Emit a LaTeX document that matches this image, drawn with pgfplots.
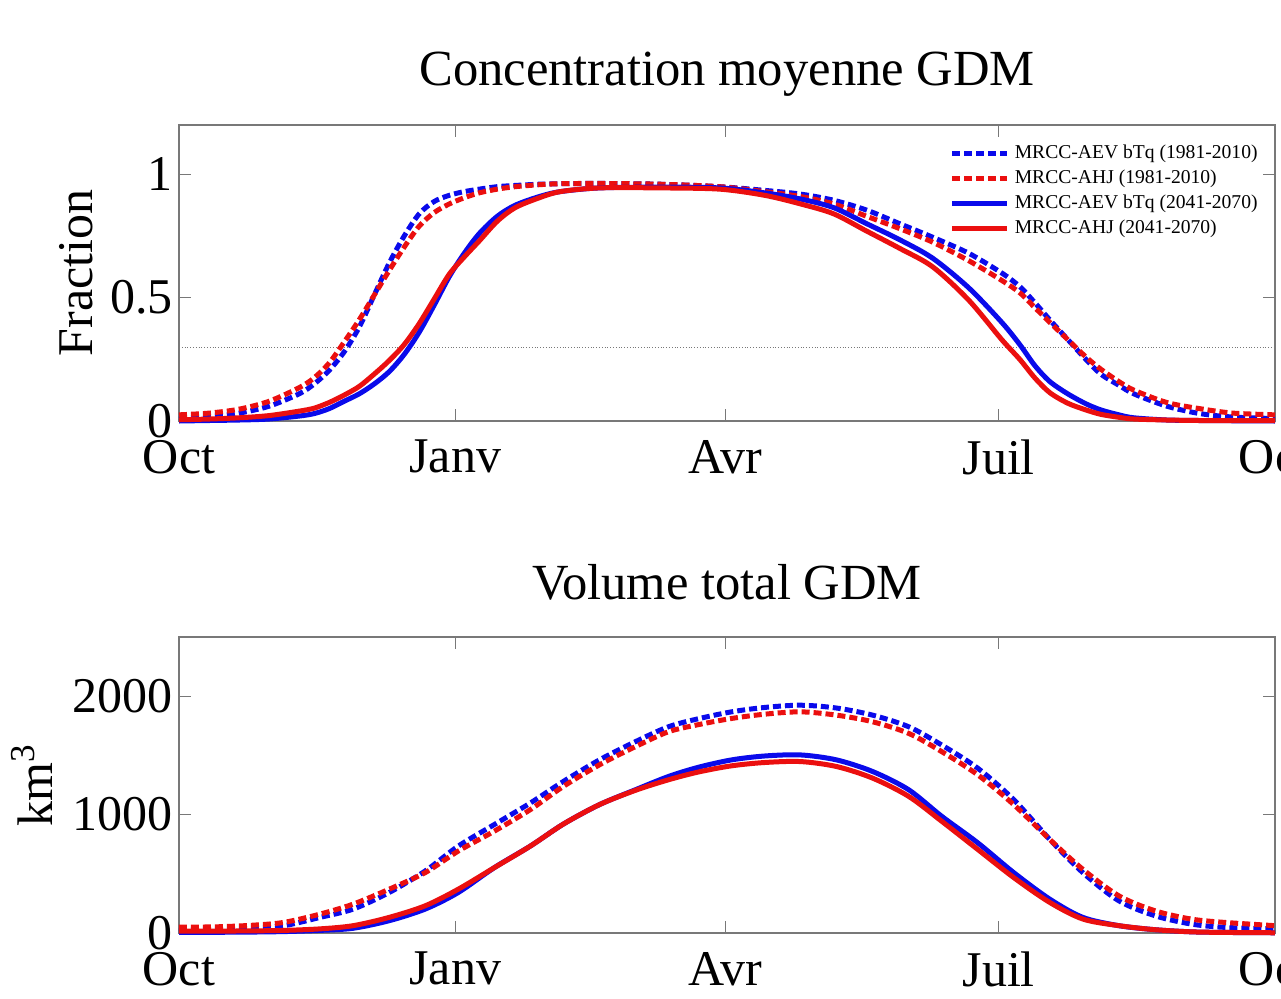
\documentclass[border=0pt]{standalone}
\usepackage{fontspec}
\setmainfont{Liberation Serif}
\usepackage{pgfplots}
\usepackage{pgfplotstable}
\pgfplotsset{compat=1.18}

\definecolor{mblue}{RGB}{10,10,235}
\definecolor{mred}{RGB}{235,15,15}
\definecolor{axgray}{RGB}{120,120,120}

% jour depuis le 1er octobre ; BD/RD = 1981-2010, BS/RS = 2041-2070
\pgfplotstableread{
day  BD     RD     BS     RS
0    0.012  0.025  0.000  0.005
10   0.018  0.032  0.002  0.008
20   0.032  0.048  0.004  0.013
30   0.060  0.080  0.008  0.022
40   0.110  0.135  0.020  0.040
45   0.150  0.175  0.030  0.052
50   0.205  0.235  0.050  0.075
55   0.280  0.320  0.080  0.105
60   0.380  0.410  0.110  0.140
65   0.510  0.510  0.150  0.190
70   0.640  0.610  0.200  0.245
75   0.750  0.705  0.270  0.310
80   0.840  0.790  0.360  0.395
85   0.890  0.845  0.470  0.495
90   0.915  0.880  0.585  0.595
95   0.930  0.905  0.680  0.665
100  0.940  0.925  0.760  0.730
106  0.950  0.940  0.830  0.810
112  0.955  0.950  0.875  0.865
120  0.960  0.958  0.910  0.905
127  0.962  0.962  0.930  0.930
140  0.963  0.963  0.945  0.945
160  0.960  0.960  0.948  0.945
180  0.950  0.950  0.945  0.940
195  0.935  0.930  0.925  0.915
207  0.920  0.910  0.900  0.880
218  0.895  0.880  0.865  0.840
229  0.855  0.830  0.800  0.770
240  0.800  0.780  0.735  0.700
251  0.745  0.725  0.660  0.625
263  0.680  0.650  0.540  0.490
274  0.600  0.570  0.400  0.330
280  0.545  0.520  0.310  0.250
285  0.480  0.460  0.225  0.175
290  0.410  0.400  0.160  0.115
296  0.330  0.330  0.110  0.072
302  0.250  0.260  0.070  0.045
307  0.190  0.210  0.045  0.027
313  0.145  0.160  0.025  0.015
318  0.110  0.125  0.013  0.008
329  0.060  0.075  0.004  0.004
340  0.030  0.050  0.002  0.002
351  0.016  0.032  0.001  0.002
365  0.010  0.025  0.000  0.002
}\conc

\pgfplotstableread{
day  BD    RD    BS    RS
0    25    50    5     15
12   28    52    6     16
24   40    65    8     18
35   62    90    12    22
47   132   160   22    35
58   202   244   40    62
70   342   370   104   132
82   524   510   202   230
93   734   692   342   370
105  916   860   552   552
117  1098  1042  734   734
128  1280  1238  920   920
140  1462  1420  1084  1084
152  1616  1574  1210  1205
163  1742  1700  1322  1294
173  1810  1760  1400  1360
184  1868  1812  1462  1412
195  1905  1848  1495  1440
207  1924  1868  1504  1448
219  1900  1840  1462  1406
231  1840  1784  1364  1308
243  1742  1686  1210  1154
254  1588  1532  986   944
266  1392  1336  762   706
278  1126  1084  510   468
290  790   790   286   258
301  510   538   132   118
313  272   314   62    62
325  146   188   28    28
337  76    118   10    10
348  48    90    5     5
365  34    62    2     2
}\vol

\pgfplotsset{
  gdm/.style={
    scale only axis, width=548pt, height=148pt,
    xmin=0, xmax=365,
    xtick={0,92,182,273,365},
    xticklabels={Oct,Janv,Avr,Juil,Oct},
    tick pos=both, tick align=inside,
    major tick length=6pt,
    axis line style={axgray, line width=0.6pt},
    every tick/.style={axgray, line width=0.6pt},
    tick label style={font=\fontsize{25}{27}\selectfont},
    xticklabel style={yshift=-6pt},
    yticklabel style={xshift=0.5pt},
    /pgf/number format/assume math mode=true,
    /pgf/number format/1000 sep={},
    scaled y ticks=false,
    title style={at={(0.5,1)}, anchor=base, font=\fontsize{25.3}{28}\selectfont},
    label style={font=\fontsize{25}{28}\selectfont},
    clip=false,
  },
  dsh/.style={line width=2.5pt, dash pattern=on 4pt off 2pt},
  sol/.style={line width=2.5pt},
}

\begin{document}
\begin{tikzpicture}

\begin{axis}[gdm,
  at={(0pt,0pt)}, anchor=south west,
  ymin=0, ymax=1.2, ytick={0,0.5,1},
  title={Concentration moyenne GDM},
  title style={yshift=14pt},
  ylabel={Fraction},
  ylabel style={at={(axis description cs:-0.0785,0.5)}, anchor=base},
  legend style={at={(1,1)}, anchor=north east, xshift=-8.5pt, yshift=-9pt,
    draw=none, fill=none, inner sep=0pt, row sep=2.5pt,
    font=\fontsize{9.8}{11.5}\selectfont,
    nodes={inner sep=0pt, text height=7.5pt, text depth=2.5pt}},
  legend cell align=left,
  legend image code/.code={\draw[#1] (0pt,0pt) -- (27.5pt,0pt);},
  /tikz/every odd column/.append style={column sep=2.5pt},
]
\addplot[axgray, densely dotted, line width=0.4pt, forget plot] coordinates {(0,0.3) (365,0.3)};
\addplot[mblue, dsh, smooth] table[x=day, y=BD] {\conc};
\addplot[mred, dsh, smooth] table[x=day, y=RD] {\conc};
\addplot[mblue, sol, smooth] table[x=day, y=BS] {\conc};
\addplot[mred, sol, smooth] table[x=day, y=RS] {\conc};
\legend{MRCC-AEV bTq (1981-2010), MRCC-AHJ (1981-2010), MRCC-AEV bTq (2041-2070), MRCC-AHJ (2041-2070)}
\end{axis}

\begin{axis}[gdm,
  at={(0pt,-256pt)}, anchor=south west,
  ymin=0, ymax=2500, ytick={0,1000,2000},
  title={Volume total GDM},
  title style={yshift=13pt},
  ylabel={km\textsuperscript{3}},
  ylabel style={at={(axis description cs:-0.115,0.5)}, anchor=base},
]
\addplot[axgray, densely dotted, line width=0.4pt] coordinates {(0,0) (365,0)};
\addplot[mblue, dsh, smooth] table[x=day, y=BD] {\vol};
\addplot[mred, dsh, smooth] table[x=day, y=RD] {\vol};
\addplot[mblue, sol, smooth] table[x=day, y=BS] {\vol};
\addplot[mred, sol, smooth] table[x=day, y=RS] {\vol};
\end{axis}

\pgfresetboundingbox
\path[use as bounding box] (-89.5pt,-288.5pt) rectangle (551pt,210.5pt);
\end{tikzpicture}
\end{document}
